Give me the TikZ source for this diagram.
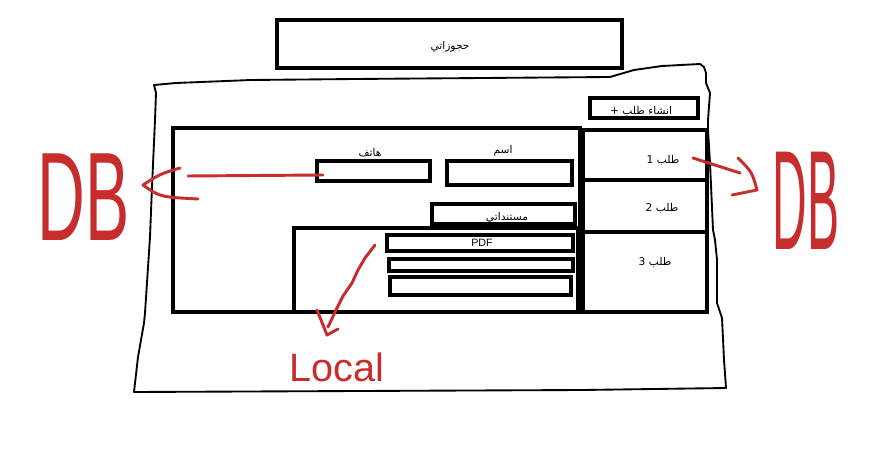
\documentclass[tikz,border=0pt]{standalone}
\usepackage{fontspec}
\usepackage{graphicx}
\usetikzlibrary{fit}
\setmainfont{Liberation Sans}
\newfontfamily\arabicfont[Script=Arabic]{DejaVu Sans}
\TeXXeTstate=1
\definecolor{pen}{RGB}{200,45,45}
\newcommand\artxt[1]{{\arabicfont\beginR #1\endR}}
\begin{document}
\begin{tikzpicture}[x=0.75pt,y=-0.75pt,
  box/.style={draw, line width=3pt, inner sep=0pt},
  lbl/.style={font=\fontsize{8}{9}\selectfont, inner sep=0pt},
  penline/.style={draw=pen, line width=2.2pt, line cap=round, line join=round},
  hand/.style={text=pen, inner sep=0pt}]
\useasboundingbox (0,0) rectangle (887,452);
\fill[white] (0,0) rectangle (887,452);

% hand drawn outer frame
\draw[line width=1.4pt, line join=round] (154,85) -- (176,83) -- (251,80) -- (355,79) -- (610,77) -- (634,70) -- (662,66) -- (700,64) -- (704,67) -- (706,73) -- (706,83) -- (710,93) -- (708,120) -- (708,130) -- (710,163) -- (713,230) -- (715,240) -- (717,260) -- (717,303) -- (722,318) -- (724,360) -- (726,388) -- (582,390) -- (134,392) -- (138,357) -- (144,323) -- (145,313) -- (150,237) -- (152,187) -- (155,120) -- (156,93) -- cycle;

% title
\node[box, fit={(277,20) (622,68)}] (title) {};
\node[lbl] (titletxt) at (450,47) {\artxt{حجوزاتي}};

% new request button
\node[box, fit={(590,98) (698,118)}] (newbtn) {};
\node[lbl] (newbtntxt) at (641,111) {\artxt{انشاء طلب +}};

% main form box
\node[box, fit={(173,128) (580,312)}] (main) {};

% right request list
\node[box, fit={(583,130) (707,180)}] (cell1) {};
\node[box, fit={(583,180) (707,232)}] (cell2) {};
\node[box, fit={(583,232) (707,312)}] (cell3) {};
\node[lbl] (c1txt) at (663,160) {\artxt{طلب 1}};
\node[lbl] (c2txt) at (662,208) {\artxt{طلب 2}};
\node[lbl] (c3txt) at (655,262) {\artxt{طلب 3}};

% fields
\node[box, fit={(317,161) (430,181)}] (phone) {};
\node[lbl] (phonelbl) at (370,153) {\artxt{هاتف}};
\node[box, fit={(447,161) (572,185)}] (name) {};
\node[lbl] (namelbl) at (503,151) {\artxt{اسم}};
\node[box, fit={(432,204) (575,224)}] (docs) {};
\node[lbl] (docslbl) at (507,218) {\artxt{مستنداتي}};

% local documents box
\node[box, fit={(294,228) (578,312)}] (local) {};
\node[box, fit={(387,235) (573,251)}] (pdf) {};
\node[lbl] (pdftxt) at (482,243) {PDF};
\node[box, fit={(389,259) (573,271)}] (row2) {};
\node[box, fit={(390,277) (571,295)}] (row3) {};

% red annotations
\node[hand] (dbleft) at (84,197) {\resizebox{69pt}{65pt}{DB}};
\node[hand] (dbright) at (806,201) {\resizebox{50pt}{73pt}{DB}};
\node[hand] (localtxt) at (337,367) {\resizebox{71pt}{!}{Local}};

\coordinate (phoneend) at (323,175);
\coordinate (leftend) at (188,176);
\draw[penline] (phoneend) -- (leftend);
\draw[penline] (180,168) .. controls (160,174) .. (143,185) .. controls (160,197) .. (198,199);

\coordinate (cellend) at (693,158);
\coordinate (rightend) at (740,173);
\draw[penline] (cellend) -- (rightend);
\draw[penline] (738,158) .. controls (752,172) .. (757,190) -- (732,195);

\coordinate (localstart) at (375,245);
\coordinate (localend) at (328,327);
\draw[penline] (localstart) -- (365,258) -- (358,270) -- (352,283) -- (343,296) -- (336,310) -- (localend);
\draw[penline] (317,310) -- (327,335) -- (338,329);
\end{tikzpicture}
\end{document}
